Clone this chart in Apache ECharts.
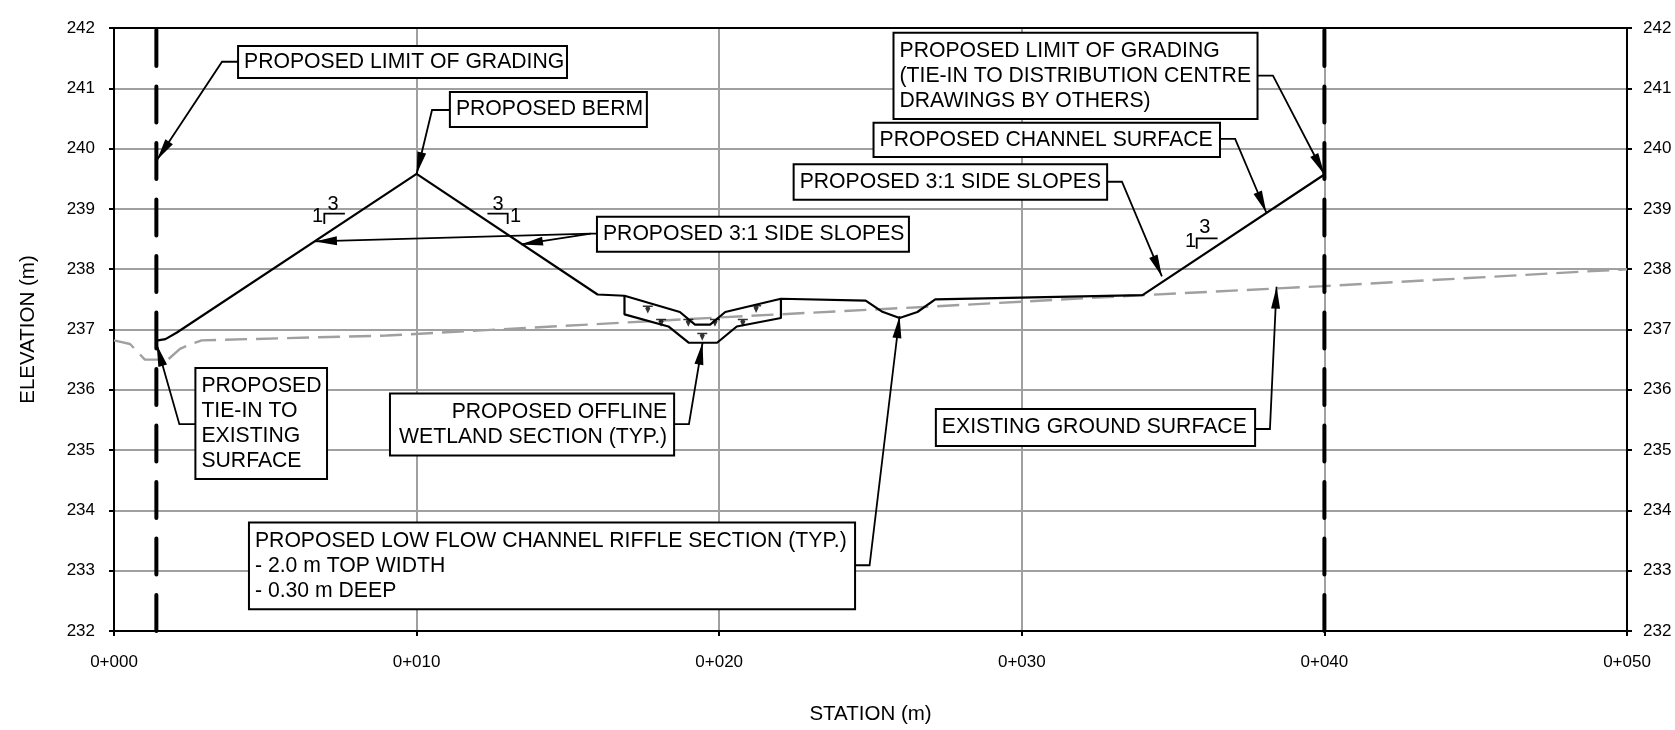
<!DOCTYPE html>
<html><head><meta charset="utf-8">
<style>html,body{margin:0;padding:0;background:#fff}#c{width:1675px;height:730px}</style>
<script src="https://cdn.jsdelivr.net/npm/echarts@6/dist/echarts.min.js"></script>
</head><body><div id="c"></div>
<script>
const stationTicks = [0,10,20,30,40,50];
const elevationTicks = [232,233,234,235,236,237,238,239,240,241,242];

const existingStations = [0,0.53,0.7,1.02,1.78,2.18,2.5,2.9,9,20,27,34,40,50];
const existingElevations = [236.82,236.76,236.67,236.5,236.5,236.68,236.75,236.82,236.9,237.2,237.38,237.57,237.72,238.0];

const proposedStations = [1.45,1.7,2.08,10,15.98,16.87,18.7,19.2,19.7,20.2,22.04,24.84,25.37,25.96,26.55,27.14,33.99,40];
const proposedElevations = [236.82,236.84,236.95,239.58,237.58,237.56,237.29,237.08,237.08,237.29,237.51,237.48,237.30,237.19,237.29,237.50,237.57,239.57];

const wetlandStations = [16.87,16.87,18.32,19.0,19.93,20.58,22.04,22.04];
const wetlandElevations = [237.56,237.25,237.05,236.78,236.78,237.05,237.19,237.51];

const limitStations = [1.4,40];
const waterMarkerStations = [17.64,18.08,18.98,19.86,19.44,20.78,21.22];
const waterMarkerElevations = [237.33,237.11,237.11,237.11,236.88,237.11,237.34];

// box: [s0,e0,s1,e1] in chart units; leaders: polyline(s) ending in an arrow tip
const callouts = [
 {t:'PROPOSED LIMIT OF GRADING',box:[4.10,241.70,14.97,241.17],leaders:[[[4.10,241.44],[3.57,241.44],[1.42,239.81]]]},
 {t:'PROPOSED BERM',box:[11.10,240.94,17.61,240.36],leaders:[[[11.10,240.64],[10.51,240.64],[10.0,239.58]]]},
 {t:'PROPOSED 3:1 SIDE SLOPES',box:[15.96,238.87,26.27,238.29],leaders:[[[15.96,238.59],[15.76,238.59],[6.64,238.46]],[[15.76,238.59],[13.45,238.41]]]},
 {t:'PROPOSED LIMIT OF GRADING\n(TIE-IN TO DISTRIBUTION CENTRE\nDRAWINGS BY OTHERS)',box:[25.76,241.92,37.79,240.49],leaders:[[[37.79,241.21],[38.30,241.21],[40,239.57]]]},
 {t:'PROPOSED CHANNEL SURFACE',box:[25.10,240.43,36.55,239.86],leaders:[[[36.55,240.16],[37.05,240.16],[38.08,238.94]]]},
 {t:'PROPOSED 3:1 SIDE SLOPES',box:[22.46,239.74,32.82,239.15],leaders:[[[32.82,239.45],[33.31,239.45],[34.63,237.88]]]},
 {t:'PROPOSED\nTIE-IN TO\nEXISTING\nSURFACE',box:[2.69,236.36,7.04,234.52],leaders:[[[2.69,235.43],[2.16,235.43],[1.41,236.75]]]},
 {t:'PROPOSED OFFLINE\nWETLAND SECTION (TYP.)',right:true,box:[9.12,235.94,18.51,234.91],leaders:[[[18.51,235.43],[19.00,235.43],[19.45,236.78]]]},
 {t:'EXISTING GROUND SURFACE',box:[27.16,235.68,37.71,235.07],leaders:[[[37.71,235.35],[38.20,235.35],[38.42,237.71]]]},
 {t:'PROPOSED LOW FLOW CHANNEL RIFFLE SECTION (TYP.)\n- 2.0 m TOP WIDTH\n- 0.30 m DEEP',box:[4.46,233.80,24.49,232.36],leaders:[[[24.49,233.09],[24.97,233.09],[25.96,237.22]]]}
];
const slopeMarks = [
 {corner:[6.95,238.92],h:7.63,v:238.75,three:[7.24,239.07],one:[6.73,238.88]},
 {corner:[13.01,238.92],h:12.34,v:238.75,three:[12.69,239.07],one:[13.27,238.88]},
 {corner:[35.78,238.51],h:36.47,v:238.34,three:[36.05,238.69],one:[35.58,238.46]}
];

const zip = (a,b)=>a.map((v,i)=>[v,b[i]]);
const FONT = '"Liberation Sans", Arial, sans-serif';

function renderCallout(params, api){
  const c = callouts[params.dataIndex];
  const p0 = api.coord([c.box[0],c.box[1]]), p1 = api.coord([c.box[2],c.box[3]]);
  const children = [];
  c.leaders.forEach(l=>{
    const pts = l.map(q=>api.coord(q));
    const tip = pts[pts.length-1], prev = pts[pts.length-2];
    const dx = prev[0]-tip[0], dy = prev[1]-tip[1], len = Math.hypot(dx,dy);
    const ux = dx/len, uy = dy/len, L = 22, W = 4.5;
    children.push({type:'polyline',shape:{points:pts},style:{stroke:'#000',lineWidth:1.8,fill:null}});
    children.push({type:'polygon',shape:{points:[tip,
      [tip[0]+ux*L-uy*W,tip[1]+uy*L+ux*W],
      [tip[0]+ux*L+uy*W,tip[1]+uy*L-ux*W]]},style:{fill:'#000'}});
  });
  children.push({type:'rect',shape:{x:p0[0],y:p0[1],width:p1[0]-p0[0],height:p1[1]-p0[1]},
    style:{fill:'#fff',stroke:'#000',lineWidth:2}});
  children.push({type:'text',style:{
    text:c.t,x:c.right?p1[0]-7:p0[0]+6,y:(p0[1]+p1[1])/2,
    align:c.right?'right':'left',verticalAlign:'middle',
    font:'21.2px '+FONT,lineHeight:25.2,fill:'#000'}});
  return {type:'group',children};
}
function renderSlope(params, api){
  const m = slopeMarks[params.dataIndex];
  const a = api.coord(m.corner), b = api.coord([m.h,m.corner[1]]), d = api.coord([m.corner[0],m.v]);
  const t3 = api.coord(m.three), t1 = api.coord(m.one);
  const txt = (p,s)=>({type:'text',style:{text:s,x:p[0],y:p[1],align:'center',verticalAlign:'middle',font:'20px '+FONT,fill:'#000'}});
  return {type:'group',children:[
    {type:'polyline',shape:{points:[b,a,d]},style:{stroke:'#000',lineWidth:1.8,fill:null}},
    txt(t3,'3'),txt(t1,'1')]};
}

const axisText = {color:'#000',fontFamily:FONT,fontSize:17};
const option = {
  animation:false,
  backgroundColor:'#fff',
  grid:{left:114,right:48,top:28,bottom:97,containLabel:false},
  xAxis:[
    {type:'value',min:0,max:50,interval:10,name:'STATION (m)',nameLocation:'middle',nameGap:73,
     nameTextStyle:{...axisText,fontSize:20.5},
     axisLine:{show:true,onZero:false,lineStyle:{color:'#000',width:2}},
     axisTick:{show:true,length:5,lineStyle:{color:'#000',width:2}},
     axisLabel:{...axisText,margin:23,formatter:v=>'0+'+String(v).padStart(3,'0'),showMinLabel:true,showMaxLabel:true},
     splitLine:{show:true,lineStyle:{color:'#a0a0a0',width:2}}},
    {type:'value',position:'top',min:0,max:50,interval:10,
     axisLine:{show:true,onZero:false,lineStyle:{color:'#000',width:2}},axisTick:{show:false},axisLabel:{show:false},splitLine:{show:false}}
  ],
  yAxis:[
    {type:'value',min:232,max:242,interval:1,name:'ELEVATION (m)',nameLocation:'middle',nameGap:75,
     nameTextStyle:{...axisText,fontSize:20.5},
     axisLine:{show:true,onZero:false,lineStyle:{color:'#000',width:2}},
     axisTick:{show:true,length:5,lineStyle:{color:'#000',width:2}},
     axisLabel:{...axisText,margin:19},
     splitLine:{show:true,lineStyle:{color:'#a0a0a0',width:2}}},
    {type:'value',position:'right',min:232,max:242,interval:1,
     axisLine:{show:true,onZero:false,lineStyle:{color:'#000',width:2}},
     axisTick:{show:true,length:5,lineStyle:{color:'#000',width:2}},
     axisLabel:{...axisText,margin:16},splitLine:{show:false}}
  ],
  series:[
    {type:'line',name:'Existing ground',data:zip(existingStations,existingElevations),showSymbol:false,silent:true,
     lineStyle:{color:'#a0a0a0',width:2.4,type:[22,9]},z:3},
    {type:'line',name:'Limit west',data:[[limitStations[0],232],[limitStations[0],242]],showSymbol:false,silent:true,
     lineStyle:{color:'#000',width:4,type:[36,20.5],cap:'round'},z:3},
    {type:'line',name:'Limit east',data:[[limitStations[1],232],[limitStations[1],242]],showSymbol:false,silent:true,
     lineStyle:{color:'#000',width:4,type:[36,20.5],cap:'round'},z:3},
    {type:'line',name:'Proposed',data:zip(proposedStations,proposedElevations),showSymbol:false,silent:true,
     lineStyle:{color:'#000',width:2.2},z:4},
    {type:'line',name:'Wetland',data:zip(wetlandStations,wetlandElevations),showSymbol:false,silent:true,
     lineStyle:{color:'#000',width:2.2},z:4},
    {type:'scatter',name:'Water',data:zip(waterMarkerStations,waterMarkerElevations),silent:true,
     symbol:'path://M0 0H10V1.4H6.6L7.6 2.6L5 8L2.4 2.6L3.4 1.4H0Z',symbolSize:[10,8],
     itemStyle:{color:'#000'},z:4},
    {type:'custom',name:'Slopes',data:slopeMarks.map(m=>m.corner),renderItem:renderSlope,silent:true,clip:false,z:5},
    {type:'custom',name:'Callouts',data:callouts.map(c=>[c.box[0],c.box[1]]),renderItem:renderCallout,silent:true,clip:false,z:6}
  ]
};
const chart = echarts.init(document.getElementById('c'),null,{renderer:'canvas'});
chart.setOption(option);
</script></body></html>
